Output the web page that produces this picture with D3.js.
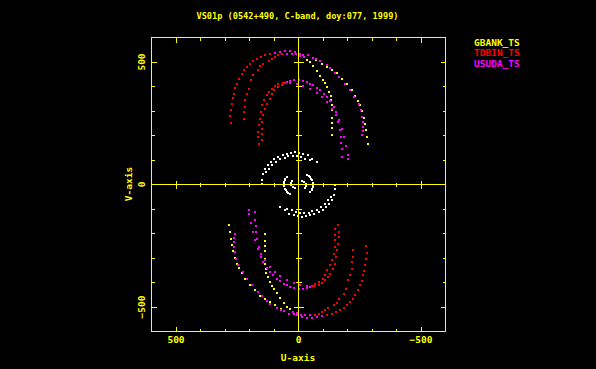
<!DOCTYPE html>
<html>
<head>
<meta charset="utf-8">
<script src="https://cdn.jsdelivr.net/npm/d3@7"></script>
<style>
    body { margin: 0; background: #000; }
    svg { display: block; }
    text { font-family: "DejaVu Sans Mono", monospace; font-weight: bold; }
</style>
</head>
<body>
<svg width="596" height="369"></svg>
<script>
// uv samples [u, v], one half only; the conjugate (-u,-v) is drawn too
var tdbin1 = [[277,253],[279,278],[276,303],[272,330],[269,352],[265,371],[258,392],[251,412],[242,431],
    [231,452],[222,466],[209,478],[197,490],[184,504],[169,513],[153,520],[136,527],[118,531]];
var tdbin2 = [[224,269],[224,296],[220,316],[217,344],[211,371],[204,391],[194,425],[184,446],[166,466],
    [156,482],[143,493],[122,504],[109,514],[95,520],[82,527],[68,531]];
var tdbin3 = [[163,167],[167,194],[166,214],[163,242],[159,269],[153,296],[147,323],[139,344],[129,364],
    [120,377],[109,391],[95,402],[82,412],[64,416]];
var tdbin4 = [[147,180],[149,205],[149,228],[147,255],[143,282],[136,310],[129,330],[118,350],[109,368],
    [98,384],[84,398],[68,408],[54,414]];

var usuda1 = [[95,537],[75,541],[54,543],[34,543],[13,539],[-7,534],[-20,530],[-37,527],[-59,518],[-72,514],
    [-89,503],[-116,489],[-129,475],[-147,457],[-167,439],[-191,412],[-211,384],[-227,357],[-245,330],
    [-255,303],[-259,275],[-262,254],[-263,235],[-262,219],[-260,204]];
var usuda2 = [[47,531],[27,534],[9,531],[-7,525],[-23,519]];
var usuda3 = [[47,418],[34,422],[18,425],[0,425],[-18,422],[-34,418],[-48,412],[-61,405],[-75,394],[-89,384],
    [-103,370],[-116,356],[-129,339],[-143,316],[-154,295],[-167,262],[-177,228],[-186,194],[-195,156],
    [-202,119],[-204,106]];
var usuda4 = [[34,413],[7,411],[-20,404],[-48,390],[-75,374],[-95,356],[-116,335],[-136,310],[-154,282],
    [-163,255],[-170,221],[-173,194],[-175,168],[-177,144],[-177,112]];

var gbank1 = [[-35,509],[-48,499],[-61,482],[-75,464],[-89,443],[-101,427],[-109,414],[-117,397],[-125,377],
    [-131,360],[-132,344],[-135,323],[-136,303],[-136,273],[-136,252],[-136,231],[-136,204]];
var gbank2 = [[-72,507],[-97,492],[-117,478],[-137,466],[-157,455],[-177,432],[-197,412],[-218,384],[-231,361],
    [-242,341],[-249,323],[-259,299],[-268,273],[-272,248],[-276,224],[-280,194],[-282,167]];

var ground1 = [[149,4],[149,20],[145,44],[136,65],[126,78],[113,92],[99,103],[82,112],[65,119],[47,126],
    [31,130],[13,131],[-4,130],[-20,126],[-37,119],[-55,106],[-75,92]];
var ground2 = [[132,51],[122,65],[109,78],[91,92],[75,103],[57,110],[41,115],[23,116],[7,115],[-10,112],
    [-27,106],[-48,99]];
var ground3 = [[47,31],[54,23],[57,17],[60,9],[61,1],[60,-7],[57,-17],[53,-24],[47,-31],[41,-35],[34,-37]];
var ground4 = [[26,15],[30,7],[30,-1],[24,-9],[16,-16]];

var stations = ["GBANK_TS", "TDBIN_TS", "USUDA_TS"];
var stationColors = ["#ffff00", "#ff0000", "#ff00ff"];
var stationTracks = [[gbank1, gbank2], [tdbin1, tdbin2, tdbin3, tdbin4], [usuda1, usuda2, usuda3, usuda4]];
var groundTracks = [ground1, ground2, ground3, ground4];

var title = "VS01p (0542+490, C-band, doy:077, 1999)";
var majorTicks = [-500, 0, 500];
var minorTicks = [-600, -400, -300, -200, -100, 100, 200, 300, 400, 600];

var svg = d3.select("svg");
svg.append("rect").attr("width", 596).attr("height", 369).attr("fill", "#000");

var x = d3.scaleLinear().domain([600, -600]).range([151.5, 445.5]);
var y = d3.scaleLinear().domain([600, -600]).range([37.5, 331.5]);
var yel = "#ffff00";

// flatten samples with their conjugates
var points = [];
groundTracks.forEach(function(t) {
    t.forEach(function(p) { points.push({u: p[0], v: p[1], c: "#ffffff"}); });
});
stationTracks.forEach(function(tracks, i) {
    tracks.forEach(function(t) {
        t.forEach(function(p) { points.push({u: p[0], v: p[1], c: stationColors[i]}); });
    });
});
var all = [];
points.forEach(function(d) {
    all.push(d);
    all.push({u: -d.u, v: -d.v, c: d.c});
});

svg.append("g")
    .attr("shape-rendering", "crispEdges")
    .selectAll("rect")
    .data(all)
    .enter().append("rect")
    .attr("x", function(d) { return Math.round(x(d.u)) - 1; })
    .attr("y", function(d) { return Math.round(y(d.v)) - 1; })
    .attr("width", 2)
    .attr("height", 1.5)
    .attr("fill", function(d) { return d.c; });

// frame and zero lines
var axes = svg.append("g")
    .attr("stroke", yel)
    .attr("stroke-width", 1)
    .attr("fill", "none")
    .attr("shape-rendering", "crispEdges");

axes.append("rect")
    .attr("x", x(600)).attr("y", y(600))
    .attr("width", x(-600) - x(600)).attr("height", y(-600) - y(600));
axes.append("line").attr("x1", x(600)).attr("x2", x(-600)).attr("y1", y(0)).attr("y2", y(0));
axes.append("line").attr("x1", x(0)).attr("x2", x(0)).attr("y1", y(600)).attr("y2", y(-600));

var ticks = majorTicks.map(function(t) { return {t: t, len: 5}; })
    .concat(minorTicks.map(function(t) { return {t: t, len: 3}; }));

// ticks on the frame, pointing inwards
axes.selectAll(".tb").data(ticks).enter().append("line")
    .attr("x1", function(d) { return x(d.t); }).attr("x2", function(d) { return x(d.t); })
    .attr("y1", y(-600)).attr("y2", function(d) { return y(-600) - d.len; });
axes.selectAll(".tt").data(ticks).enter().append("line")
    .attr("x1", function(d) { return x(d.t); }).attr("x2", function(d) { return x(d.t); })
    .attr("y1", y(600)).attr("y2", function(d) { return y(600) + d.len; });
axes.selectAll(".tl").data(ticks).enter().append("line")
    .attr("y1", function(d) { return y(d.t); }).attr("y2", function(d) { return y(d.t); })
    .attr("x1", x(600)).attr("x2", function(d) { return x(600) + d.len; });
axes.selectAll(".tr").data(ticks).enter().append("line")
    .attr("y1", function(d) { return y(d.t); }).attr("y2", function(d) { return y(d.t); })
    .attr("x1", x(-600)).attr("x2", function(d) { return x(-600) - d.len; });

// ticks across the zero lines
var zticks = ticks.filter(function(d) { return d.t !== 0; });
axes.selectAll(".zx").data(zticks).enter().append("line")
    .attr("x1", function(d) { return x(d.t); }).attr("x2", function(d) { return x(d.t); })
    .attr("y1", function(d) { return y(0) - d.len + 1; }).attr("y2", function(d) { return y(0) + d.len - 1; });
axes.selectAll(".zy").data(zticks).enter().append("line")
    .attr("y1", function(d) { return y(d.t); }).attr("y2", function(d) { return y(d.t); })
    .attr("x1", function(d) { return x(0) - d.len; }).attr("x2", function(d) { return x(0) + d.len; });

// labels
var fmt = function(t) { return t < 0 ? "\u2212" + (-t) : "" + t; };
svg.selectAll(".xl").data(majorTicks).enter().append("text")
    .attr("x", function(d) { return x(d); })
    .attr("y", 343)
    .attr("text-anchor", "middle")
    .attr("font-size", 9.5)
    .attr("fill", yel)
    .text(fmt);
svg.selectAll(".yl").data(majorTicks).enter().append("text")
    .attr("transform", function(d) { return "translate(145," + y(d) + ") rotate(-90)"; })
    .attr("text-anchor", "middle")
    .attr("font-size", 9.5)
    .attr("fill", yel)
    .text(fmt);

svg.append("text")
    .attr("x", 298).attr("y", 361)
    .attr("text-anchor", "middle")
    .attr("font-size", 9.5)
    .attr("fill", yel)
    .text("U-axis");
svg.append("text")
    .attr("transform", "translate(132,184) rotate(-90)")
    .attr("text-anchor", "middle")
    .attr("font-size", 9.5)
    .attr("fill", yel)
    .text("V-axis");

svg.append("text")
    .attr("x", 196.5).attr("y", 19)
    .attr("font-size", 9)
    .attr("textLength", 202)
    .attr("lengthAdjust", "spacingAndGlyphs")
    .attr("fill", yel)
    .text(title);

svg.selectAll(".legend").data(stations).enter().append("text")
    .attr("x", 474)
    .attr("y", function(d, i) { return 46 + i * 10.3; })
    .attr("font-size", 9.5)
    .attr("fill", function(d, i) { return stationColors[i]; })
    .text(function(d) { return d; });
</script>
</body>
</html>
